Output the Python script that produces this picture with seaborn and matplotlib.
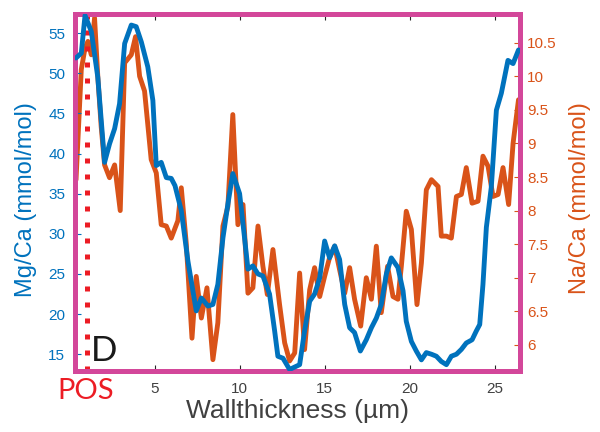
import matplotlib
matplotlib.use("Agg")
import matplotlib.pyplot as plt
import seaborn as sns
import pandas as pd

# Mg/Ca profile across the wall
mg_x = [0.38, 0.69, 0.91, 1.28, 1.66, 2.06, 2.35, 2.65, 2.94, 3.24, 3.63, 3.92, 4.22, 4.60,
        4.90, 5.10, 5.39, 5.69, 5.98, 6.20, 6.57, 6.96, 7.45, 7.75, 8.14, 8.43, 8.72, 9.02,
        9.31, 9.60, 10.00, 10.29, 10.49, 10.78, 11.08, 11.37, 11.76, 12.06, 12.25, 12.55,
        12.94, 13.53, 13.82, 14.12, 14.41, 14.71, 15.00, 15.29, 15.59, 15.88, 16.18, 16.47,
        16.76, 17.10, 17.45, 17.75, 18.04, 18.33, 18.63, 18.92, 19.31, 19.61, 19.80, 20.10,
        20.39, 20.69, 20.98, 21.28, 21.57, 21.86, 22.16, 22.45, 22.75, 23.04, 23.33, 23.67,
        23.92, 24.12, 24.31, 24.51, 24.80, 25.10, 25.39, 25.78, 26.08, 26.40]
mg_ca = [51.9, 52.5, 57.2, 55.2, 49.5, 38.9, 41.2, 43.1, 46.2, 53.7, 56.0, 55.8, 53.9, 50.8,
         46.6, 38.5, 38.9, 37.0, 36.9, 36.0, 32.9, 26.6, 20.4, 22.0, 21.0, 21.2, 23.7, 29.5,
         33.7, 37.5, 35.0, 29.5, 25.6, 26.0, 25.0, 24.75, 22.5, 17.9, 14.75, 14.5,
         13.1, 13.7, 17.9, 21.6, 22.5, 24.5, 29.1, 27.0, 28.5, 26.8, 21.2, 18.3,
         17.7, 15.4, 16.8, 18.3, 19.5, 21.2, 25.0, 27.0, 25.8, 22.9, 19.1, 16.6,
         15.4, 14.3, 15.2, 15.0, 14.75, 14.1, 13.7, 14.75, 15.0, 15.6, 16.4, 16.8,
         17.9, 18.7, 23.7, 30.8, 35.8, 45.4, 47.5, 51.6, 51.2, 52.9]

# Na/Ca profile across the wall
na_x = [0.38, 0.69, 0.91, 1.08, 1.28, 1.47, 1.66, 1.86, 2.06, 2.35, 2.65, 2.98, 3.24, 3.63,
        3.88, 4.12, 4.41, 4.80, 5.10, 5.39, 5.69, 5.98, 6.37, 6.57, 6.86, 7.20, 7.45, 7.75,
        8.08, 8.43, 8.72, 9.02, 9.31, 9.60, 9.90, 10.20, 10.49, 10.78, 11.08, 11.37, 11.63,
        11.96, 12.35, 12.65, 12.94, 13.24, 13.53, 13.82, 14.12, 14.41, 14.71, 15.00, 15.29,
        15.59, 15.88, 16.18, 16.47, 16.76, 17.12, 17.45, 17.75, 18.04, 18.33, 18.70, 19.02,
        19.31, 19.51, 19.80, 20.10, 20.43, 20.69, 20.98, 21.28, 21.67, 21.86, 22.16, 22.45,
        22.75, 23.04, 23.33, 23.67, 24.02, 24.31, 24.61, 24.90, 25.20, 25.49, 25.82, 26.08,
        26.40]
na_ca = [8.46, 10.1, 10.42, 10.52, 10.32, 10.87, 10.0, 9.25, 8.68, 8.49, 8.68, 8.0, 10.2, 10.32,
         10.59, 10.0, 9.78, 8.76, 8.56, 7.79, 7.77, 7.59, 7.85, 8.34, 7.52, 6.10, 7.02, 6.40,
         6.85, 5.78, 6.33, 7.77, 8.06, 9.43, 7.79, 8.09, 6.77, 6.85, 7.77, 7.17, 6.75,
         7.42, 6.60, 6.03, 5.76, 5.88, 7.07, 5.93, 6.82, 7.15, 6.72, 7.02, 7.30,
         7.47, 7.12, 6.77, 7.15, 6.68, 6.28, 7.00, 6.68, 7.47, 6.48, 7.17, 6.72,
         6.68, 7.17, 7.99, 7.72, 6.60, 7.22, 8.31, 8.46, 8.36, 7.62, 7.62, 7.59,
         8.21, 8.24, 8.64, 8.11, 8.14, 8.81, 8.66, 8.21, 8.24, 8.64, 8.09, 9.00,
         9.65]

x_ticks = [5, 10, 15, 20, 25]
mg_ticks = [15, 20, 25, 30, 35, 40, 45, 50, 55]
na_ticks = [6, 6.5, 7, 7.5, 8, 8.5, 9, 9.5, 10, 10.5]
na_tick_labels = ["6", "6.5", "7", "7.5", "8", "8.5", "9", "9.5", "10", "10.5"]
pos_x = 1.0

BLUE = "#0072BD"
ORANGE = "#D95319"
PINK = "#D3479A"
RED = "#EC1C24"

sns.set_style("white")
plt.rcParams["font.family"] = ["Liberation Sans", "DejaVu Sans"]

mg_df = pd.DataFrame({"x": mg_x, "mg": mg_ca})
na_df = pd.DataFrame({"x": na_x, "na": na_ca})

fig = plt.figure(figsize=(6, 4.32), dpi=100)
ax = fig.add_axes([0.125, 0.141, 0.742, 0.827])
ax2 = ax.twinx()

# Na/Ca on the right axis, drawn underneath
sns.lineplot(data=na_df, x="x", y="na", ax=ax2, color=ORANGE, linewidth=3.5,
             sort=False, errorbar=None)
# Mg/Ca on the left axis, drawn on top
ax.set_zorder(ax2.get_zorder() + 1)
ax.patch.set_visible(False)
ax.axvline(pos_x, color=RED, linewidth=3.6, linestyle=(0, (1, 2.2)),
           dash_capstyle="butt", zorder=2)
sns.lineplot(data=mg_df, x="x", y="mg", ax=ax, color=BLUE, linewidth=3.5,
             sort=False, errorbar=None, zorder=3)

ax.set_xlim(0.32, 26.5)
ax.set_ylim(12.9, 57.4)
ax2.set_ylim(5.61, 10.93)

ax.set_xticks(x_ticks)
ax.set_yticks(mg_ticks)
ax2.set_yticks(na_ticks)
ax2.set_yticklabels(na_tick_labels)

ax.tick_params(axis="x", which="both", direction="in", length=4, width=0.8,
               color="#262626", labelcolor="#404040", labelsize=11, pad=8,
               top=True, bottom=True)
ax.tick_params(axis="y", direction="in", length=4, width=0.8, color=BLUE,
               labelcolor=BLUE, labelsize=11, pad=7, left=True, right=False)
ax2.tick_params(axis="y", direction="in", length=4, width=0.8, color=ORANGE,
                labelcolor=ORANGE, labelsize=11, pad=5, right=True, left=False)

for side, sp in ax.spines.items():
    sp.set_visible(True)
    sp.set_color(PINK)
    sp.set_linewidth(3.6)
for sp in ax2.spines.values():
    sp.set_visible(False)

ax.set_xlabel("Wallthickness (µm)", fontsize=19, color="#404040")
ax.set_ylabel("Mg/Ca (mmol/mol)", fontsize=17, color=BLUE)
ax2.set_ylabel("Na/Ca (mmol/mol)", fontsize=17, color=ORANGE)
ax.xaxis.set_label_coords(0.5, -0.112)
ax.yaxis.set_label_coords(-0.11, 0.479)
ax2.yaxis.set_label_coords(1.135, 0.485)
ax.xaxis.label.set_va("center")
ax.yaxis.label.set_va("center")
ax2.yaxis.label.set_va("center")

ax.text(1.25, 15.4, "D", fontsize=25, color="#1a1a1a", family=["Lato", "DejaVu Sans"],
        ha="left", va="center", zorder=4)
fig.text(86 / 600, 1 - 391 / 432, "POS", fontsize=21, color=RED,
         family=["Lato", "DejaVu Sans"], ha="center", va="center")

fig.savefig("out.png", dpi=100)
